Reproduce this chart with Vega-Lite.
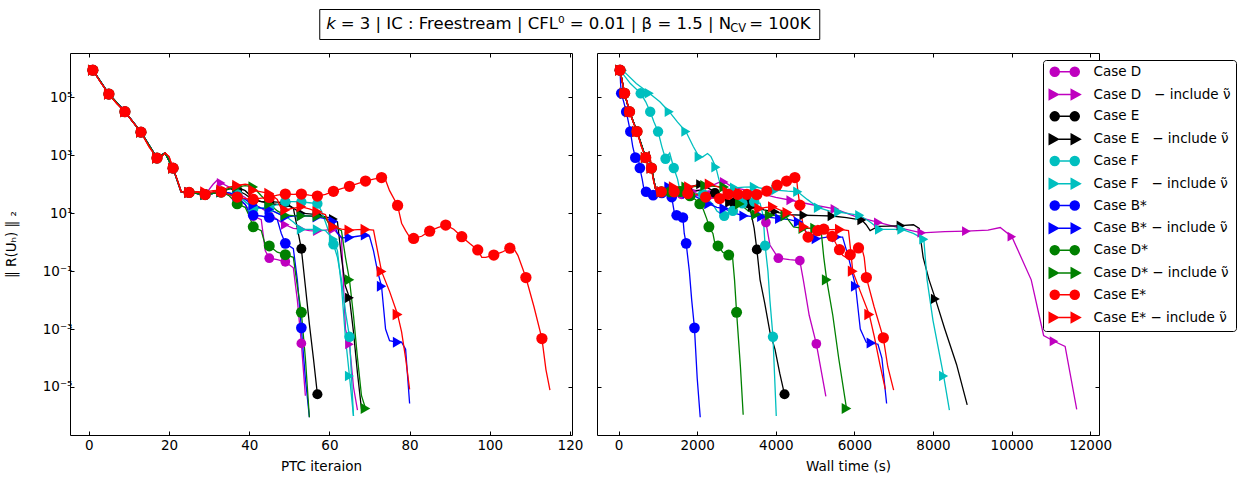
{
"$schema": "https://vega.github.io/schema/vega-lite/v6.json",
"padding": {"left": 3, "top": 8, "right": 5, "bottom": 5},
"spacing": 12,
"center": true,
"config": {
 "font": "DejaVu Sans",
 "view": {"stroke": "#000000", "strokeWidth": 1},
 "axis": {"domain": false, "grid": false, "tickColor": "#000000", "tickSize": -4, "tickWidth": 1, "labelColor": "#000000", "labelFontSize": 13.5, "titleFontSize": 13.5, "titleFontWeight": "normal", "titleColor": "#000000", "labelPadding": 2},
 "axisX": {"labelPadding": 7},
 "legend": {"labelFontSize": 13.5, "labelColor": "#000000", "symbolSize": 100, "symbolStrokeWidth": 1.5, "rowPadding": 5.8, "padding": 5, "strokeColor": "#000000", "fillColor": "#ffffff", "cornerRadius": 3, "symbolOffset": 10, "labelOffset": 22, "labelLimit": 300}
},
"datasets": {
"S": [{"s":"D"},{"s":"Di"},{"s":"E"},{"s":"Ei"},{"s":"F"},{"s":"Fi"},{"s":"B"},{"s":"Bi"},{"s":"Ds"},{"s":"Dsi"},{"s":"Es"},{"s":"Esi"}],
"L": [
{"s":"D","x":1,"y":8.7e5,"m":1},{"s":"D","x":5,"y":1.3e5,"m":1},{"s":"D","x":9,"y":3.2e4,"m":1},{"s":"D","x":13,"y":6300,"m":1},{"s":"D","x":17,"y":800,"m":1},{"s":"D","x":19,"y":1200},{"s":"D","x":21,"y":360,"m":1},{"s":"D","x":23,"y":56},{"s":"D","x":25,"y":52,"m":1},{"s":"D","x":29,"y":44,"m":1},{"s":"D","x":33,"y":54,"m":1},
{"s":"D","x":35,"y":45},{"s":"D","x":37,"y":32,"m":1},{"s":"D","x":39,"y":20},{"s":"D","x":41,"y":8,"m":1},{"s":"D","x":43,"y":6},{"s":"D","x":44,"y":0.5},{"s":"D","x":45,"y":0.28,"m":1},{"s":"D","x":47,"y":0.25},{"s":"D","x":49,"y":0.21,"m":1},{"s":"D","x":51,"y":0.13},{"s":"D","x":52,"y":0.01},{"s":"D","x":53,"y":3.2e-4,"m":1},{"s":"D","x":54,"y":5e-6},
{"s":"Di","x":1,"y":8.7e5,"m":1},{"s":"Di","x":5,"y":1.3e5,"m":1},{"s":"Di","x":9,"y":3.2e4,"m":1},{"s":"Di","x":13,"y":6300,"m":1},{"s":"Di","x":17,"y":800,"m":1},{"s":"Di","x":19,"y":1200},{"s":"Di","x":21,"y":360,"m":1},{"s":"Di","x":23,"y":56},{"s":"Di","x":25,"y":52,"m":1},{"s":"Di","x":29,"y":44,"m":1},
{"s":"Di","x":31,"y":100},{"s":"Di","x":32,"y":138},{"s":"Di","x":33,"y":110,"m":1},{"s":"Di","x":35,"y":80},{"s":"Di","x":37,"y":50,"m":1},{"s":"Di","x":39,"y":35},{"s":"Di","x":41,"y":20,"m":1},{"s":"Di","x":43,"y":15},{"s":"Di","x":45,"y":10,"m":1},{"s":"Di","x":47,"y":6},{"s":"Di","x":49,"y":4,"m":1},{"s":"Di","x":51,"y":3},{"s":"Di","x":53,"y":2.8,"m":1},{"s":"Di","x":55,"y":2.5},{"s":"Di","x":57,"y":2.4,"m":1},{"s":"Di","x":59,"y":2.6},{"s":"Di","x":61,"y":2.8,"m":1},{"s":"Di","x":63,"y":1.5},{"s":"Di","x":64,"y":1e-3},{"s":"Di","x":65,"y":3e-4,"m":1},{"s":"Di","x":66,"y":1e-5},{"s":"Di","x":67,"y":1.6e-6},
{"s":"E","x":1,"y":8.7e5,"m":1},{"s":"E","x":5,"y":1.3e5,"m":1},{"s":"E","x":9,"y":3.2e4,"m":1},{"s":"E","x":13,"y":6300,"m":1},{"s":"E","x":17,"y":800,"m":1},{"s":"E","x":19,"y":1200},{"s":"E","x":21,"y":360,"m":1},{"s":"E","x":23,"y":56},{"s":"E","x":25,"y":52,"m":1},{"s":"E","x":29,"y":44,"m":1},{"s":"E","x":33,"y":54,"m":1},
{"s":"E","x":35,"y":70},{"s":"E","x":37,"y":62,"m":1},{"s":"E","x":39,"y":45},{"s":"E","x":41,"y":28,"m":1},{"s":"E","x":43,"y":25},{"s":"E","x":45,"y":25,"m":1},{"s":"E","x":47,"y":24},{"s":"E","x":49,"y":23,"m":1},{"s":"E","x":51,"y":15},{"s":"E","x":52,"y":3},{"s":"E","x":53,"y":0.59,"m":1},{"s":"E","x":54,"y":0.03},{"s":"E","x":55,"y":1.5e-3},{"s":"E","x":56,"y":1e-4},{"s":"E","x":57,"y":5.6e-6,"m":1},
{"s":"Ei","x":1,"y":8.7e5,"m":1},{"s":"Ei","x":5,"y":1.3e5,"m":1},{"s":"Ei","x":9,"y":3.2e4,"m":1},{"s":"Ei","x":13,"y":6300,"m":1},{"s":"Ei","x":17,"y":800,"m":1},{"s":"Ei","x":19,"y":1200},{"s":"Ei","x":21,"y":360,"m":1},{"s":"Ei","x":23,"y":56},{"s":"Ei","x":25,"y":52,"m":1},{"s":"Ei","x":29,"y":44,"m":1},{"s":"Ei","x":33,"y":54,"m":1},
{"s":"Ei","x":35,"y":70},{"s":"Ei","x":37,"y":79,"m":1},{"s":"Ei","x":39,"y":60},{"s":"Ei","x":41,"y":32,"m":1},{"s":"Ei","x":43,"y":25},{"s":"Ei","x":45,"y":22,"m":1},{"s":"Ei","x":47,"y":20},{"s":"Ei","x":49,"y":20,"m":1},{"s":"Ei","x":51,"y":15},{"s":"Ei","x":53,"y":10,"m":1},{"s":"Ei","x":55,"y":9.5},{"s":"Ei","x":57,"y":9,"m":1},{"s":"Ei","x":59,"y":7.5},{"s":"Ei","x":61,"y":6.3,"m":1},{"s":"Ei","x":62,"y":5},{"s":"Ei","x":63,"y":0.3},{"s":"Ei","x":64,"y":0.03},{"s":"Ei","x":65,"y":0.012,"m":1},{"s":"Ei","x":66,"y":8e-4},{"s":"Ei","x":67,"y":3e-5},{"s":"Ei","x":68,"y":1.7e-6},
{"s":"F","x":1,"y":8.7e5,"m":1},{"s":"F","x":5,"y":1.3e5,"m":1},{"s":"F","x":9,"y":3.2e4,"m":1},{"s":"F","x":13,"y":6300,"m":1},{"s":"F","x":17,"y":800,"m":1},{"s":"F","x":19,"y":1200},{"s":"F","x":21,"y":360,"m":1},{"s":"F","x":23,"y":56},{"s":"F","x":25,"y":52,"m":1},{"s":"F","x":29,"y":44,"m":1},{"s":"F","x":33,"y":54,"m":1},
{"s":"F","x":35,"y":50},{"s":"F","x":37,"y":45,"m":1},{"s":"F","x":39,"y":25},{"s":"F","x":41,"y":14.5,"m":1},{"s":"F","x":43,"y":15},{"s":"F","x":45,"y":16,"m":1},{"s":"F","x":47,"y":20},{"s":"F","x":49,"y":25,"m":1},{"s":"F","x":51,"y":25},{"s":"F","x":53,"y":24.5,"m":1},{"s":"F","x":55,"y":23},{"s":"F","x":57,"y":21.4,"m":1},{"s":"F","x":58,"y":12},{"s":"F","x":59,"y":5},{"s":"F","x":60,"y":2},{"s":"F","x":61,"y":0.85,"m":1},{"s":"F","x":62,"y":0.3},{"s":"F","x":63,"y":0.05},{"s":"F","x":64,"y":4e-3},{"s":"F","x":65,"y":5.4e-4,"m":1},{"s":"F","x":66,"y":1e-6},
{"s":"Fi","x":1,"y":8.7e5,"m":1},{"s":"Fi","x":5,"y":1.3e5,"m":1},{"s":"Fi","x":9,"y":3.2e4,"m":1},{"s":"Fi","x":13,"y":6300,"m":1},{"s":"Fi","x":17,"y":800,"m":1},{"s":"Fi","x":19,"y":1200},{"s":"Fi","x":21,"y":360,"m":1},{"s":"Fi","x":23,"y":56},{"s":"Fi","x":25,"y":52,"m":1},{"s":"Fi","x":29,"y":44,"m":1},{"s":"Fi","x":33,"y":54,"m":1},
{"s":"Fi","x":35,"y":45},{"s":"Fi","x":37,"y":40,"m":1},{"s":"Fi","x":39,"y":25},{"s":"Fi","x":41,"y":16,"m":1},{"s":"Fi","x":43,"y":15},{"s":"Fi","x":45,"y":14,"m":1},{"s":"Fi","x":47,"y":10},{"s":"Fi","x":49,"y":8,"m":1},{"s":"Fi","x":51,"y":5},{"s":"Fi","x":53,"y":2.75,"m":1},{"s":"Fi","x":55,"y":2.75},{"s":"Fi","x":57,"y":2.75,"m":1},{"s":"Fi","x":59,"y":2.5},{"s":"Fi","x":61,"y":1.26,"m":1},{"s":"Fi","x":62,"y":0.5},{"s":"Fi","x":63,"y":0.03},{"s":"Fi","x":64,"y":5e-4},{"s":"Fi","x":65,"y":2.4e-5,"m":1},{"s":"Fi","x":66,"y":1e-6},
{"s":"B","x":1,"y":8.7e5,"m":1},{"s":"B","x":5,"y":1.3e5,"m":1},{"s":"B","x":9,"y":3.2e4,"m":1},{"s":"B","x":13,"y":6300,"m":1},{"s":"B","x":17,"y":800,"m":1},{"s":"B","x":19,"y":1200},{"s":"B","x":21,"y":360,"m":1},{"s":"B","x":23,"y":56},{"s":"B","x":25,"y":52,"m":1},{"s":"B","x":29,"y":44,"m":1},{"s":"B","x":33,"y":54,"m":1},
{"s":"B","x":35,"y":45},{"s":"B","x":37,"y":36,"m":1},{"s":"B","x":39,"y":20},{"s":"B","x":40,"y":10},{"s":"B","x":41,"y":8.5,"m":1},{"s":"B","x":43,"y":8},{"s":"B","x":45,"y":7.1,"m":1},{"s":"B","x":47,"y":6},{"s":"B","x":48,"y":2},{"s":"B","x":49,"y":0.91,"m":1},{"s":"B","x":51,"y":0.6},{"s":"B","x":52,"y":0.05},{"s":"B","x":53,"y":1.1e-3,"m":1},{"s":"B","x":54,"y":2e-5},{"s":"B","x":55,"y":9e-7},
{"s":"Bi","x":1,"y":8.7e5,"m":1},{"s":"Bi","x":5,"y":1.3e5,"m":1},{"s":"Bi","x":9,"y":3.2e4,"m":1},{"s":"Bi","x":13,"y":6300,"m":1},{"s":"Bi","x":17,"y":800,"m":1},{"s":"Bi","x":19,"y":1200},{"s":"Bi","x":21,"y":360,"m":1},{"s":"Bi","x":23,"y":56},{"s":"Bi","x":25,"y":52,"m":1},{"s":"Bi","x":29,"y":44,"m":1},{"s":"Bi","x":33,"y":54,"m":1},
{"s":"Bi","x":35,"y":50},{"s":"Bi","x":37,"y":40,"m":1},{"s":"Bi","x":39,"y":30},{"s":"Bi","x":41,"y":19,"m":1},{"s":"Bi","x":43,"y":15},{"s":"Bi","x":45,"y":13.5,"m":1},{"s":"Bi","x":47,"y":10},{"s":"Bi","x":49,"y":7.4,"m":1},{"s":"Bi","x":51,"y":8},{"s":"Bi","x":53,"y":8.3,"m":1},{"s":"Bi","x":55,"y":8},{"s":"Bi","x":57,"y":7.4,"m":1},{"s":"Bi","x":59,"y":6.5},{"s":"Bi","x":61,"y":5.2,"m":1},{"s":"Bi","x":62,"y":2},{"s":"Bi","x":63,"y":1.4},{"s":"Bi","x":65,"y":1.45,"m":1},{"s":"Bi","x":67,"y":1.6},{"s":"Bi","x":69,"y":1.74,"m":1},{"s":"Bi","x":70,"y":1.6},{"s":"Bi","x":71,"y":0.5},{"s":"Bi","x":72,"y":0.1},{"s":"Bi","x":73,"y":0.03,"m":1},{"s":"Bi","x":74,"y":1e-3},{"s":"Bi","x":75,"y":4e-4},{"s":"Bi","x":77,"y":3.5e-4,"m":1},{"s":"Bi","x":78,"y":3.5e-4},{"s":"Bi","x":79,"y":2e-4},{"s":"Bi","x":80,"y":2.7e-6},
{"s":"Ds","x":1,"y":8.7e5,"m":1},{"s":"Ds","x":5,"y":1.3e5,"m":1},{"s":"Ds","x":9,"y":3.2e4,"m":1},{"s":"Ds","x":13,"y":6300,"m":1},{"s":"Ds","x":17,"y":800,"m":1},{"s":"Ds","x":19,"y":1200},{"s":"Ds","x":21,"y":360,"m":1},{"s":"Ds","x":23,"y":56},{"s":"Ds","x":25,"y":52,"m":1},{"s":"Ds","x":29,"y":44,"m":1},{"s":"Ds","x":33,"y":54,"m":1},
{"s":"Ds","x":35,"y":40},{"s":"Ds","x":37,"y":21,"m":1},{"s":"Ds","x":39,"y":16},{"s":"Ds","x":40,"y":8},{"s":"Ds","x":41,"y":3.4,"m":1},{"s":"Ds","x":43,"y":2.5},{"s":"Ds","x":44,"y":0.8},{"s":"Ds","x":45,"y":0.74,"m":1},{"s":"Ds","x":47,"y":0.45},{"s":"Ds","x":49,"y":0.37,"m":1},{"s":"Ds","x":51,"y":0.3},{"s":"Ds","x":52,"y":0.03},{"s":"Ds","x":53,"y":3.8e-3,"m":1},{"s":"Ds","x":54,"y":1e-4},{"s":"Ds","x":55,"y":9e-7},
{"s":"Dsi","x":1,"y":8.7e5,"m":1},{"s":"Dsi","x":5,"y":1.3e5,"m":1},{"s":"Dsi","x":9,"y":3.2e4,"m":1},{"s":"Dsi","x":13,"y":6300,"m":1},{"s":"Dsi","x":17,"y":800,"m":1},{"s":"Dsi","x":19,"y":1200},{"s":"Dsi","x":21,"y":360,"m":1},{"s":"Dsi","x":23,"y":56},{"s":"Dsi","x":25,"y":52,"m":1},{"s":"Dsi","x":29,"y":44,"m":1},{"s":"Dsi","x":33,"y":54,"m":1},
{"s":"Dsi","x":35,"y":70},{"s":"Dsi","x":37,"y":80,"m":1},{"s":"Dsi","x":39,"y":90},{"s":"Dsi","x":41,"y":81,"m":1},{"s":"Dsi","x":43,"y":40},{"s":"Dsi","x":45,"y":21,"m":1},{"s":"Dsi","x":47,"y":12},{"s":"Dsi","x":49,"y":8.5,"m":1},{"s":"Dsi","x":51,"y":8.2},{"s":"Dsi","x":53,"y":8.1,"m":1},{"s":"Dsi","x":55,"y":8},{"s":"Dsi","x":57,"y":7.9,"m":1},{"s":"Dsi","x":59,"y":7},{"s":"Dsi","x":60,"y":4},{"s":"Dsi","x":61,"y":3.4,"m":1},{"s":"Dsi","x":63,"y":2.5},{"s":"Dsi","x":64,"y":0.3},{"s":"Dsi","x":65,"y":0.05,"m":1},{"s":"Dsi","x":66,"y":3e-3},{"s":"Dsi","x":67,"y":1e-4},{"s":"Dsi","x":68,"y":5e-6},{"s":"Dsi","x":69,"y":1.8e-6,"m":1},
{"s":"Es","x":1,"y":8.7e5,"m":1},{"s":"Es","x":3,"y":3.2e5},{"s":"Es","x":5,"y":1.3e5,"m":1},{"s":"Es","x":7,"y":6e4},{"s":"Es","x":9,"y":3.2e4,"m":1},{"s":"Es","x":11,"y":1.4e4},{"s":"Es","x":13,"y":6300,"m":1},{"s":"Es","x":15,"y":2000},{"s":"Es","x":17,"y":800,"m":1},{"s":"Es","x":18,"y":850},{"s":"Es","x":19,"y":1200},{"s":"Es","x":20,"y":900},{"s":"Es","x":21,"y":360,"m":1},{"s":"Es","x":22,"y":150},{"s":"Es","x":23,"y":56},{"s":"Es","x":25,"y":52,"m":1},{"s":"Es","x":27,"y":55},{"s":"Es","x":29,"y":44,"m":1},{"s":"Es","x":31,"y":56},{"s":"Es","x":33,"y":54,"m":1},
{"s":"Es","x":35,"y":45},{"s":"Es","x":37,"y":36,"m":1},{"s":"Es","x":39,"y":32},{"s":"Es","x":41,"y":30,"m":1},{"s":"Es","x":43,"y":33},{"s":"Es","x":45,"y":35,"m":1},{"s":"Es","x":47,"y":42},{"s":"Es","x":49,"y":46,"m":1},{"s":"Es","x":51,"y":45},{"s":"Es","x":53,"y":46,"m":1},{"s":"Es","x":55,"y":42},{"s":"Es","x":57,"y":39,"m":1},{"s":"Es","x":59,"y":45},{"s":"Es","x":61,"y":57,"m":1},{"s":"Es","x":63,"y":70},{"s":"Es","x":65,"y":85,"m":1},{"s":"Es","x":67,"y":105},{"s":"Es","x":69,"y":129,"m":1},{"s":"Es","x":71,"y":150},{"s":"Es","x":73,"y":170,"m":1},{"s":"Es","x":74,"y":140},{"s":"Es","x":75,"y":60},{"s":"Es","x":77,"y":18.6,"m":1},{"s":"Es","x":78,"y":4.5},{"s":"Es","x":79,"y":2.5},{"s":"Es","x":80,"y":1.5},{"s":"Es","x":81,"y":1.35,"m":1},{"s":"Es","x":83,"y":1.6},{"s":"Es","x":85,"y":2.4,"m":1},{"s":"Es","x":87,"y":3.2},{"s":"Es","x":89,"y":3.9,"m":1},{"s":"Es","x":91,"y":2.8},{"s":"Es","x":93,"y":1.55,"m":1},{"s":"Es","x":95,"y":0.9},{"s":"Es","x":97,"y":0.54,"m":1},{"s":"Es","x":98,"y":0.3},{"s":"Es","x":99,"y":0.3},{"s":"Es","x":101,"y":0.36,"m":1},{"s":"Es","x":103,"y":0.45},{"s":"Es","x":105,"y":0.62,"m":1},{"s":"Es","x":106,"y":0.6},{"s":"Es","x":107,"y":0.35},{"s":"Es","x":109,"y":0.06,"m":1},{"s":"Es","x":111,"y":0.006},{"s":"Es","x":113,"y":4.7e-4,"m":1},{"s":"Es","x":114,"y":4e-5},{"s":"Es","x":115,"y":7.8e-6},
{"s":"Esi","x":1,"y":8.7e5,"m":1},{"s":"Esi","x":3,"y":3.2e5},{"s":"Esi","x":5,"y":1.3e5,"m":1},{"s":"Esi","x":7,"y":6e4},{"s":"Esi","x":9,"y":3.2e4,"m":1},{"s":"Esi","x":11,"y":1.4e4},{"s":"Esi","x":13,"y":6300,"m":1},{"s":"Esi","x":15,"y":2000},{"s":"Esi","x":17,"y":800,"m":1},{"s":"Esi","x":18,"y":850},{"s":"Esi","x":19,"y":1200},{"s":"Esi","x":20,"y":900},{"s":"Esi","x":21,"y":360,"m":1},{"s":"Esi","x":22,"y":150},{"s":"Esi","x":23,"y":56},{"s":"Esi","x":25,"y":52,"m":1},
{"s":"Esi","x":27,"y":55},{"s":"Esi","x":29,"y":54,"m":1},{"s":"Esi","x":31,"y":60},{"s":"Esi","x":33,"y":62,"m":1},{"s":"Esi","x":35,"y":80},{"s":"Esi","x":37,"y":91,"m":1},{"s":"Esi","x":39,"y":100},{"s":"Esi","x":40,"y":95},{"s":"Esi","x":41,"y":62,"m":1},{"s":"Esi","x":43,"y":55},{"s":"Esi","x":45,"y":48,"m":1},{"s":"Esi","x":47,"y":30},{"s":"Esi","x":48,"y":14},{"s":"Esi","x":49,"y":12.9,"m":1},{"s":"Esi","x":51,"y":15},{"s":"Esi","x":53,"y":16.6,"m":1},{"s":"Esi","x":55,"y":14},{"s":"Esi","x":57,"y":11.2,"m":1},{"s":"Esi","x":59,"y":9},{"s":"Esi","x":60,"y":4},{"s":"Esi","x":61,"y":3.4,"m":1},{"s":"Esi","x":63,"y":2.8},{"s":"Esi","x":65,"y":2.6,"m":1},{"s":"Esi","x":67,"y":2.7},{"s":"Esi","x":69,"y":2.75,"m":1},{"s":"Esi","x":71,"y":2.6},{"s":"Esi","x":72,"y":0.5},{"s":"Esi","x":73,"y":0.098,"m":1},{"s":"Esi","x":75,"y":0.02},{"s":"Esi","x":77,"y":3.2e-3,"m":1},{"s":"Esi","x":78,"y":8e-4},{"s":"Esi","x":79,"y":1e-4},{"s":"Esi","x":80,"y":8.3e-6}
],
"R": [
{"s":"D","x":36,"y":8.7e5,"m":1},{"s":"D","x":152,"y":1.38e5,"m":1},{"s":"D","x":278,"y":3.2e4,"m":1},{"s":"D","x":468,"y":6600,"m":1},{"s":"D","x":689,"y":830,"m":1},{"s":"D","x":770,"y":1200},{"s":"D","x":836,"y":363,"m":1},{"s":"D","x":950,"y":60},{"s":"D","x":1088,"y":55,"m":1},
{"s":"D","x":1300,"y":50},{"s":"D","x":1600,"y":45,"m":1},{"s":"D","x":1900,"y":40},{"s":"D","x":2300,"y":42,"m":1},{"s":"D","x":2700,"y":38},{"s":"D","x":3050,"y":30,"m":1},{"s":"D","x":3350,"y":25},{"s":"D","x":3500,"y":12},{"s":"D","x":3749,"y":4.8,"m":1},{"s":"D","x":3850,"y":0.8},{"s":"D","x":4065,"y":0.28,"m":1},{"s":"D","x":4350,"y":0.25},{"s":"D","x":4611,"y":0.23,"m":1},{"s":"D","x":4700,"y":0.05},{"s":"D","x":4850,"y":3e-3},{"s":"D","x":5032,"y":3.1e-4,"m":1},{"s":"D","x":5274,"y":4.7e-6},
{"s":"Di","x":36,"y":8.7e5,"m":1},{"s":"Di","x":152,"y":1.38e5,"m":1},{"s":"Di","x":278,"y":3.2e4,"m":1},{"s":"Di","x":468,"y":6600,"m":1},{"s":"Di","x":689,"y":830,"m":1},{"s":"Di","x":770,"y":1200},{"s":"Di","x":836,"y":363,"m":1},{"s":"Di","x":950,"y":60},{"s":"Di","x":1088,"y":55,"m":1},
{"s":"Di","x":1500,"y":60},{"s":"Di","x":1900,"y":56,"m":1},{"s":"Di","x":2300,"y":80},{"s":"Di","x":2550,"y":115},{"s":"Di","x":2687,"y":120,"m":1},{"s":"Di","x":2900,"y":80},{"s":"Di","x":3300,"y":60},{"s":"Di","x":3550,"y":50,"m":1},{"s":"Di","x":4000,"y":35},{"s":"Di","x":4380,"y":28,"m":1},{"s":"Di","x":4900,"y":20},{"s":"Di","x":5505,"y":14,"m":1},{"s":"Di","x":6000,"y":8},{"s":"Di","x":6610,"y":4.8,"m":1},{"s":"Di","x":7200,"y":3},{"s":"Di","x":7714,"y":2.1,"m":1},{"s":"Di","x":8300,"y":2.3},{"s":"Di","x":8850,"y":2.4,"m":1},{"s":"Di","x":9400,"y":2.6},{"s":"Di","x":9712,"y":3.2},{"s":"Di","x":10007,"y":1.55,"m":1},{"s":"Di","x":10500,"y":0.05},{"s":"Di","x":10816,"y":6e-4},{"s":"Di","x":11080,"y":3.8e-4,"m":1},{"s":"Di","x":11363,"y":2.5e-4},{"s":"Di","x":11658,"y":1.7e-6},
{"s":"E","x":36,"y":8.7e5,"m":1},{"s":"E","x":152,"y":1.38e5,"m":1},{"s":"E","x":278,"y":3.2e4,"m":1},{"s":"E","x":468,"y":6600,"m":1},{"s":"E","x":689,"y":830,"m":1},{"s":"E","x":770,"y":1200},{"s":"E","x":836,"y":363,"m":1},{"s":"E","x":950,"y":60},{"s":"E","x":1088,"y":55,"m":1},
{"s":"E","x":1400,"y":58},{"s":"E","x":1750,"y":62,"m":1},{"s":"E","x":2100,"y":60},{"s":"E","x":2450,"y":50,"m":1},{"s":"E","x":2700,"y":30},{"s":"E","x":2929,"y":23,"m":1},{"s":"E","x":3150,"y":23},{"s":"E","x":3297,"y":22,"m":1},{"s":"E","x":3370,"y":10},{"s":"E","x":3450,"y":3},{"s":"E","x":3518,"y":0.56,"m":1},{"s":"E","x":3600,"y":0.05},{"s":"E","x":3717,"y":8e-3},{"s":"E","x":3850,"y":8e-4},{"s":"E","x":3980,"y":2e-4},{"s":"E","x":4100,"y":3e-5},{"s":"E","x":4222,"y":5.6e-6,"m":1},
{"s":"Ei","x":36,"y":8.7e5,"m":1},{"s":"Ei","x":152,"y":1.38e5,"m":1},{"s":"Ei","x":278,"y":3.2e4,"m":1},{"s":"Ei","x":468,"y":6600,"m":1},{"s":"Ei","x":689,"y":830,"m":1},{"s":"Ei","x":770,"y":1200},{"s":"Ei","x":836,"y":363,"m":1},{"s":"Ei","x":950,"y":60},{"s":"Ei","x":1088,"y":55,"m":1},
{"s":"Ei","x":1500,"y":65},{"s":"Ei","x":2087,"y":100,"m":1},{"s":"Ei","x":2400,"y":60},{"s":"Ei","x":2824,"y":23,"m":1},{"s":"Ei","x":3100,"y":20},{"s":"Ei","x":3400,"y":17,"m":1},{"s":"Ei","x":3700,"y":13},{"s":"Ei","x":3980,"y":11.2,"m":1},{"s":"Ei","x":4300,"y":9},{"s":"Ei","x":4716,"y":8.5,"m":1},{"s":"Ei","x":5100,"y":8.2},{"s":"Ei","x":5432,"y":8,"m":1},{"s":"Ei","x":5800,"y":7},{"s":"Ei","x":6189,"y":5.8,"m":1},{"s":"Ei","x":6300,"y":4},{"s":"Ei","x":6400,"y":2.5},{"s":"Ei","x":6600,"y":3.5},{"s":"Ei","x":6900,"y":3.6},{"s":"Ei","x":7188,"y":3.7,"m":1},{"s":"Ei","x":7503,"y":4},{"s":"Ei","x":7650,"y":3},{"s":"Ei","x":7750,"y":0.3},{"s":"Ei","x":7900,"y":0.05},{"s":"Ei","x":8061,"y":0.011,"m":1},{"s":"Ei","x":8300,"y":1e-3},{"s":"Ei","x":8600,"y":6e-5},{"s":"Ei","x":8871,"y":2.4e-6},
{"s":"F","x":36,"y":8.7e5,"m":1},{"s":"F","x":300,"y":3e5},{"s":"F","x":562,"y":1.38e5,"m":1},{"s":"F","x":690,"y":7e4},{"s":"F","x":804,"y":3.2e4,"m":1},{"s":"F","x":900,"y":1.4e4},{"s":"F","x":1004,"y":6600,"m":1},{"s":"F","x":1100,"y":2000},{"s":"F","x":1193,"y":760,"m":1},{"s":"F","x":1300,"y":1200},{"s":"F","x":1404,"y":363,"m":1},{"s":"F","x":1500,"y":150},{"s":"F","x":1560,"y":60},{"s":"F","x":1614,"y":55,"m":1},{"s":"F","x":1900,"y":50},{"s":"F","x":2150,"y":45,"m":1},{"s":"F","x":2400,"y":20},{"s":"F","x":2500,"y":12},{"s":"F","x":2687,"y":8.1,"m":1},{"s":"F","x":2800,"y":10},{"s":"F","x":2908,"y":12,"m":1},{"s":"F","x":3050,"y":18},{"s":"F","x":3150,"y":22,"m":1},{"s":"F","x":3350,"y":25},{"s":"F","x":3450,"y":25,"m":1},{"s":"F","x":3600,"y":22},{"s":"F","x":3680,"y":8},{"s":"F","x":3728,"y":0.76,"m":1},{"s":"F","x":3800,"y":0.1},{"s":"F","x":3850,"y":0.01},{"s":"F","x":3928,"y":5.4e-4,"m":1},{"s":"F","x":4012,"y":1e-6},
{"s":"Fi","x":100,"y":8.7e5,"m":1},{"s":"Fi","x":450,"y":3e5},{"s":"Fi","x":780,"y":1.38e5,"m":1},{"s":"Fi","x":1050,"y":7e4},{"s":"Fi","x":1288,"y":3.2e4,"m":1},{"s":"Fi","x":1500,"y":1.4e4},{"s":"Fi","x":1712,"y":6600,"m":1},{"s":"Fi","x":1900,"y":2000},{"s":"Fi","x":2051,"y":870,"m":1},{"s":"Fi","x":2150,"y":900},{"s":"Fi","x":2263,"y":1150},{"s":"Fi","x":2350,"y":900},{"s":"Fi","x":2475,"y":390,"m":1},{"s":"Fi","x":2550,"y":150},{"s":"Fi","x":2650,"y":60},{"s":"Fi","x":2950,"y":75,"m":1},{"s":"Fi","x":3200,"y":80},{"s":"Fi","x":3455,"y":81,"m":1},{"s":"Fi","x":3700,"y":70},{"s":"Fi","x":4000,"y":63,"m":1},{"s":"Fi","x":4300,"y":58},{"s":"Fi","x":4559,"y":55,"m":1},{"s":"Fi","x":4800,"y":30},{"s":"Fi","x":5085,"y":15.5,"m":1},{"s":"Fi","x":5350,"y":12},{"s":"Fi","x":5600,"y":11,"m":1},{"s":"Fi","x":5900,"y":9.5},{"s":"Fi","x":6136,"y":8.5,"m":1},{"s":"Fi","x":6400,"y":5},{"s":"Fi","x":6641,"y":2.75,"m":1},{"s":"Fi","x":6900,"y":2.75},{"s":"Fi","x":7209,"y":2.75,"m":1},{"s":"Fi","x":7500,"y":2},{"s":"Fi","x":7766,"y":1.26,"m":1},{"s":"Fi","x":7850,"y":0.05},{"s":"Fi","x":8000,"y":2e-3},{"s":"Fi","x":8271,"y":2.4e-5,"m":1},{"s":"Fi","x":8418,"y":1.6e-6},
{"s":"B","x":36,"y":8.7e5,"m":1},{"s":"B","x":50,"y":3e5},{"s":"B","x":68,"y":1.38e5,"m":1},{"s":"B","x":130,"y":7e4},{"s":"B","x":194,"y":3.2e4,"m":1},{"s":"B","x":250,"y":1.4e4},{"s":"B","x":299,"y":6600,"m":1},{"s":"B","x":360,"y":2000},{"s":"B","x":426,"y":830,"m":1},{"s":"B","x":490,"y":1000},{"s":"B","x":541,"y":363,"m":1},{"s":"B","x":600,"y":150},{"s":"B","x":650,"y":60},{"s":"B","x":699,"y":55,"m":1},{"s":"B","x":780,"y":50},{"s":"B","x":878,"y":42,"m":1},{"s":"B","x":1000,"y":45},{"s":"B","x":1100,"y":50,"m":1},{"s":"B","x":1250,"y":45},{"s":"B","x":1351,"y":36,"m":1},{"s":"B","x":1420,"y":10},{"s":"B","x":1477,"y":8.5,"m":1},{"s":"B","x":1560,"y":8},{"s":"B","x":1635,"y":7.1,"m":1},{"s":"B","x":1670,"y":2},{"s":"B","x":1719,"y":0.91,"m":1},{"s":"B","x":1800,"y":0.1},{"s":"B","x":1860,"y":0.01},{"s":"B","x":1930,"y":1.1e-3,"m":1},{"s":"B","x":2000,"y":2e-5},{"s":"B","x":2077,"y":9e-7},
{"s":"Bi","x":36,"y":8.7e5,"m":1},{"s":"Bi","x":152,"y":1.38e5,"m":1},{"s":"Bi","x":278,"y":3.2e4,"m":1},{"s":"Bi","x":468,"y":6600,"m":1},{"s":"Bi","x":689,"y":830,"m":1},{"s":"Bi","x":770,"y":1200},{"s":"Bi","x":836,"y":363,"m":1},{"s":"Bi","x":950,"y":60},{"s":"Bi","x":1088,"y":55,"m":1},
{"s":"Bi","x":1282,"y":81,"m":1},{"s":"Bi","x":1500,"y":60},{"s":"Bi","x":1748,"y":48,"m":1},{"s":"Bi","x":2000,"y":35},{"s":"Bi","x":2297,"y":21,"m":1},{"s":"Bi","x":2500,"y":16},{"s":"Bi","x":2687,"y":14.5,"m":1},{"s":"Bi","x":2950,"y":10},{"s":"Bi","x":3192,"y":8.1,"m":1},{"s":"Bi","x":3400,"y":7.8},{"s":"Bi","x":3644,"y":7.6,"m":1},{"s":"Bi","x":3900,"y":7},{"s":"Bi","x":4100,"y":6.5,"m":1},{"s":"Bi","x":4350,"y":6},{"s":"Bi","x":4580,"y":5,"m":1},{"s":"Bi","x":4800,"y":2},{"s":"Bi","x":4900,"y":1.3},{"s":"Bi","x":5032,"y":1.3,"m":1},{"s":"Bi","x":5300,"y":1.5},{"s":"Bi","x":5550,"y":1.5,"m":1},{"s":"Bi","x":5700,"y":1.5},{"s":"Bi","x":5850,"y":0.3},{"s":"Bi","x":6031,"y":0.03,"m":1},{"s":"Bi","x":6150,"y":1e-3},{"s":"Bi","x":6300,"y":3.5e-4},{"s":"Bi","x":6431,"y":3.3e-4,"m":1},{"s":"Bi","x":6600,"y":3e-4},{"s":"Bi","x":6700,"y":1e-4},{"s":"Bi","x":6820,"y":2.7e-6},
{"s":"Ds","x":36,"y":8.7e5,"m":1},{"s":"Ds","x":152,"y":1.38e5,"m":1},{"s":"Ds","x":278,"y":3.2e4,"m":1},{"s":"Ds","x":468,"y":6600,"m":1},{"s":"Ds","x":689,"y":830,"m":1},{"s":"Ds","x":770,"y":1200},{"s":"Ds","x":836,"y":363,"m":1},{"s":"Ds","x":950,"y":60},{"s":"Ds","x":1088,"y":55,"m":1},
{"s":"Ds","x":1316,"y":55,"m":1},{"s":"Ds","x":1566,"y":56,"m":1},{"s":"Ds","x":1816,"y":40,"m":1},{"s":"Ds","x":1950,"y":30},{"s":"Ds","x":2066,"y":21,"m":1},{"s":"Ds","x":2150,"y":14},{"s":"Ds","x":2250,"y":6},{"s":"Ds","x":2298,"y":3.4,"m":1},{"s":"Ds","x":2400,"y":2},{"s":"Ds","x":2450,"y":0.9},{"s":"Ds","x":2529,"y":0.74,"m":1},{"s":"Ds","x":2650,"y":0.45},{"s":"Ds","x":2802,"y":0.36,"m":1},{"s":"Ds","x":2900,"y":0.3},{"s":"Ds","x":2950,"y":0.05},{"s":"Ds","x":3002,"y":3.8e-3,"m":1},{"s":"Ds","x":3100,"y":5e-5},{"s":"Ds","x":3170,"y":1.1e-6},
{"s":"Dsi","x":36,"y":8.7e5,"m":1},{"s":"Dsi","x":152,"y":1.38e5,"m":1},{"s":"Dsi","x":278,"y":3.2e4,"m":1},{"s":"Dsi","x":468,"y":6600,"m":1},{"s":"Dsi","x":689,"y":830,"m":1},{"s":"Dsi","x":770,"y":1200},{"s":"Dsi","x":836,"y":363,"m":1},{"s":"Dsi","x":950,"y":60},{"s":"Dsi","x":1088,"y":55,"m":1},
{"s":"Dsi","x":1400,"y":70,"m":1},{"s":"Dsi","x":1719,"y":80,"m":1},{"s":"Dsi","x":2000,"y":85},{"s":"Dsi","x":2200,"y":90,"m":1},{"s":"Dsi","x":2450,"y":85},{"s":"Dsi","x":2687,"y":81,"m":1},{"s":"Dsi","x":2900,"y":40},{"s":"Dsi","x":3086,"y":21,"m":1},{"s":"Dsi","x":3300,"y":12},{"s":"Dsi","x":3500,"y":9,"m":1},{"s":"Dsi","x":3844,"y":8.5,"m":1},{"s":"Dsi","x":4050,"y":8.2},{"s":"Dsi","x":4243,"y":8.1,"m":1},{"s":"Dsi","x":4450,"y":3.4},{"s":"Dsi","x":4700,"y":3,"m":1},{"s":"Dsi","x":5000,"y":3,"m":1},{"s":"Dsi","x":5150,"y":2.8},{"s":"Dsi","x":5221,"y":0.3},{"s":"Dsi","x":5295,"y":0.05,"m":1},{"s":"Dsi","x":5450,"y":3e-3},{"s":"Dsi","x":5600,"y":1e-4},{"s":"Dsi","x":5800,"y":1.8e-6,"m":1},
{"s":"Es","x":36,"y":8.7e5,"m":1},{"s":"Es","x":95,"y":3.2e5},{"s":"Es","x":152,"y":1.38e5,"m":1},{"s":"Es","x":215,"y":7e4},{"s":"Es","x":278,"y":3.2e4,"m":1},{"s":"Es","x":370,"y":1.4e4},{"s":"Es","x":468,"y":6600,"m":1},{"s":"Es","x":580,"y":2000},{"s":"Es","x":689,"y":830,"m":1},{"s":"Es","x":740,"y":900},{"s":"Es","x":770,"y":1200},{"s":"Es","x":800,"y":900},{"s":"Es","x":836,"y":363,"m":1},{"s":"Es","x":880,"y":150},{"s":"Es","x":950,"y":60},{"s":"Es","x":1088,"y":55,"m":1},
{"s":"Es","x":1250,"y":55},{"s":"Es","x":1414,"y":55,"m":1},{"s":"Es","x":1600,"y":56},{"s":"Es","x":1761,"y":48,"m":1},{"s":"Es","x":2000,"y":45},{"s":"Es","x":2214,"y":36,"m":1},{"s":"Es","x":2400,"y":33},{"s":"Es","x":2571,"y":32,"m":1},{"s":"Es","x":2700,"y":40},{"s":"Es","x":2792,"y":45,"m":1},{"s":"Es","x":2900,"y":45},{"s":"Es","x":3034,"y":45,"m":1},{"s":"Es","x":3150,"y":45},{"s":"Es","x":3265,"y":45,"m":1},{"s":"Es","x":3400,"y":42},{"s":"Es","x":3518,"y":44,"m":1},{"s":"Es","x":3650,"y":48},{"s":"Es","x":3770,"y":58,"m":1},{"s":"Es","x":3900,"y":75},{"s":"Es","x":4033,"y":93,"m":1},{"s":"Es","x":4150,"y":110},{"s":"Es","x":4275,"y":129,"m":1},{"s":"Es","x":4400,"y":150},{"s":"Es","x":4485,"y":170,"m":1},{"s":"Es","x":4530,"y":150},{"s":"Es","x":4560,"y":60},{"s":"Es","x":4612,"y":19,"m":1},{"s":"Es","x":4680,"y":5},{"s":"Es","x":4750,"y":2.5},{"s":"Es","x":4822,"y":1.5,"m":1},{"s":"Es","x":4950,"y":1.8},{"s":"Es","x":5064,"y":2.5,"m":1},{"s":"Es","x":5150,"y":3},{"s":"Es","x":5221,"y":2.8,"m":1},{"s":"Es","x":5330,"y":2},{"s":"Es","x":5432,"y":1.6,"m":1},{"s":"Es","x":5530,"y":0.9},{"s":"Es","x":5621,"y":0.55,"m":1},{"s":"Es","x":5700,"y":0.35},{"s":"Es","x":5780,"y":0.3},{"s":"Es","x":5895,"y":0.37,"m":1},{"s":"Es","x":6000,"y":0.45},{"s":"Es","x":6105,"y":0.63,"m":1},{"s":"Es","x":6200,"y":0.55},{"s":"Es","x":6250,"y":0.3},{"s":"Es","x":6305,"y":0.06,"m":1},{"s":"Es","x":6500,"y":0.006},{"s":"Es","x":6736,"y":5e-4,"m":1},{"s":"Es","x":6850,"y":5e-5},{"s":"Es","x":6999,"y":7.8e-6},
{"s":"Esi","x":36,"y":8.7e5,"m":1},{"s":"Esi","x":95,"y":3.2e5},{"s":"Esi","x":152,"y":1.38e5,"m":1},{"s":"Esi","x":215,"y":7e4},{"s":"Esi","x":278,"y":3.2e4,"m":1},{"s":"Esi","x":370,"y":1.4e4},{"s":"Esi","x":468,"y":6600,"m":1},{"s":"Esi","x":580,"y":2000},{"s":"Esi","x":689,"y":830,"m":1},{"s":"Esi","x":740,"y":900},{"s":"Esi","x":770,"y":1200},{"s":"Esi","x":800,"y":900},{"s":"Esi","x":836,"y":363,"m":1},{"s":"Esi","x":880,"y":150},{"s":"Esi","x":950,"y":60},{"s":"Esi","x":1088,"y":55,"m":1},
{"s":"Esi","x":1250,"y":60},{"s":"Esi","x":1404,"y":81,"m":1},{"s":"Esi","x":1600,"y":80},{"s":"Esi","x":1793,"y":81,"m":1},{"s":"Esi","x":2050,"y":95},{"s":"Esi","x":2318,"y":100,"m":1},{"s":"Esi","x":2550,"y":80},{"s":"Esi","x":2771,"y":55,"m":1},{"s":"Esi","x":2950,"y":48},{"s":"Esi","x":3086,"y":48,"m":1},{"s":"Esi","x":3300,"y":30},{"s":"Esi","x":3450,"y":14},{"s":"Esi","x":3581,"y":14.5,"m":1},{"s":"Esi","x":3750,"y":16},{"s":"Esi","x":3928,"y":16.6,"m":1},{"s":"Esi","x":4100,"y":13},{"s":"Esi","x":4296,"y":10.5,"m":1},{"s":"Esi","x":4450,"y":8},{"s":"Esi","x":4600,"y":4},{"s":"Esi","x":4716,"y":3.4,"m":1},{"s":"Esi","x":4950,"y":2.8},{"s":"Esi","x":5190,"y":2.6,"m":1},{"s":"Esi","x":5400,"y":2.7},{"s":"Esi","x":5632,"y":2.75,"m":1},{"s":"Esi","x":5850,"y":2.5},{"s":"Esi","x":5900,"y":0.6},{"s":"Esi","x":5958,"y":0.1,"m":1},{"s":"Esi","x":6150,"y":0.02},{"s":"Esi","x":6378,"y":3.2e-3,"m":1},{"s":"Esi","x":6500,"y":6e-4},{"s":"Esi","x":6650,"y":6e-5},{"s":"Esi","x":6788,"y":8.3e-6}
]
},
"vconcat": [
{
 "width": 500, "height": 30,
 "data": {"values": [{}]},
 "encoding": {"y": {"datum": 0.5, "type": "quantitative", "scale": {"domain": [0, 1]}, "axis": {"orient": "right", "title": "x", "titleColor": "#ffffff", "titleFontSize": 1, "titlePadding": 167, "labels": false, "ticks": false, "domain": false, "grid": false}}},
 "layer": [
  {"mark": {"type": "text", "text": "k", "fontStyle": "italic", "fontSize": 16.5, "align": "left", "baseline": "middle", "dx": -243}},
  {"mark": {"type": "text", "text": "\u00a0= 3 | IC : Freestream | CFL⁰ = 0.01 | β = 1.5 | N", "fontSize": 16.5, "align": "left", "baseline": "middle", "dx": -228.5}},
  {"mark": {"type": "text", "text": "CV", "fontSize": 11.5, "align": "left", "baseline": "middle", "dx": 161, "dy": 5}},
  {"mark": {"type": "text", "text": "\u00a0= 100K", "fontSize": 16.5, "align": "left", "baseline": "middle", "dx": 180}}
 ]
},
{
 "hconcat": [
 {
  "width": 502, "height": 382,
  "data": {"name": "L"},
  "layer": [
   {"mark": {"type": "line", "strokeWidth": 1.3, "clip": true},
    "encoding": {
     "x": {"field": "x", "type": "quantitative", "scale": {"domain": [-4.7, 120.5], "nice": false, "zero": false}, "axis": {"orient": "bottom", "values": [0,20,40,60,80,100,120], "format": "d", "title": "PTC iteraion", "titlePadding": 8}},
     "y": {"field": "y", "type": "quantitative", "scale": {"type": "log", "domain": [2.2e-7, 3.4e6], "nice": false}, "axis": {"orient": "left", "values": [1e-5,1e-3,0.1,10,1000,1e5], "labelExpr": "datum.value > 5e4 ? '10⁵' : datum.value > 500 ? '10³' : datum.value > 5 ? '10¹' : datum.value > 0.05 ? '10⁻¹' : datum.value > 5e-4 ? '10⁻³' : '10⁻⁵'", "title": "‖ R(Uₕ) ‖ ₂", "titlePadding": 24}},
     "color": {"field": "s", "type": "nominal", "scale": {"domain": ["D","Di","E","Ei","F","Fi","B","Bi","Ds","Dsi","Es","Esi"], "range": ["#bf00bf","#bf00bf","#000000","#000000","#00bfbf","#00bfbf","#0000ff","#0000ff","#008000","#008000","#ff0000","#ff0000"]}, "legend": null}
    }},
   {"transform": [{"filter": "datum.m"}],
    "mark": {"type": "point", "filled": true, "opacity": 1, "clip": true},
    "encoding": {
     "x": {"field": "x", "type": "quantitative", "axis": {"orient": "top", "values": [0,20,40,60,80,100,120], "labels": false, "title": null}},
     "y": {"field": "y", "type": "quantitative", "axis": {"orient": "right", "values": [1e-5,1e-3,0.1,10,1000,1e5], "labels": false, "title": null}},
     "color": {"field": "s", "type": "nominal", "legend": null},
     "size": {"field": "s", "type": "ordinal", "scale": {"domain": ["D","Di","E","Ei","F","Fi","B","Bi","Ds","Dsi","Es","Esi"], "range": [95,130,95,130,95,130,95,130,95,130,95,130]}, "legend": null},
     "shape": {"field": "s", "type": "nominal", "scale": {"domain": ["D","Di","E","Ei","F","Fi","B","Bi","Ds","Dsi","Es","Esi"], "range": ["circle","triangle-right","circle","triangle-right","circle","triangle-right","circle","triangle-right","circle","triangle-right","circle","triangle-right"]}, "legend": null}
    }}
  ]
 },
 {
  "width": 502, "height": 382,
  "resolve": {"scale": {"shape": "independent", "fill": "independent", "stroke": "independent"}},
  "layer": [
   {"data": {"name": "R"},
    "mark": {"type": "line", "strokeWidth": 1.3, "clip": true},
    "encoding": {
     "x": {"field": "x", "type": "quantitative", "scale": {"domain": [-550, 12225], "nice": false, "zero": false}, "axis": {"orient": "bottom", "values": [0,2000,4000,6000,8000,10000,12000], "format": "d", "title": "Wall time (s)", "titlePadding": 8}},
     "y": {"field": "y", "type": "quantitative", "scale": {"type": "log", "domain": [2.2e-7, 3.4e6], "nice": false}, "axis": {"orient": "left", "values": [1e-5,1e-3,0.1,10,1000,1e5], "labels": false, "title": null}},
     "color": {"field": "s", "type": "nominal", "scale": {"domain": ["D","Di","E","Ei","F","Fi","B","Bi","Ds","Dsi","Es","Esi"], "range": ["#bf00bf","#bf00bf","#000000","#000000","#00bfbf","#00bfbf","#0000ff","#0000ff","#008000","#008000","#ff0000","#ff0000"]}, "legend": null}
    }},
   {"data": {"name": "R"},
    "transform": [{"filter": "datum.m"}],
    "mark": {"type": "point", "filled": true, "opacity": 1, "clip": true},
    "encoding": {
     "x": {"field": "x", "type": "quantitative", "axis": {"orient": "top", "values": [0,2000,4000,6000,8000,10000,12000], "labels": false, "title": null}},
     "y": {"field": "y", "type": "quantitative", "axis": {"orient": "right", "values": [1e-5,1e-3,0.1,10,1000,1e5], "labels": false, "title": null}},
     "color": {"field": "s", "type": "nominal", "legend": null},
     "size": {"field": "s", "type": "ordinal", "scale": {"domain": ["D","Di","E","Ei","F","Fi","B","Bi","Ds","Dsi","Es","Esi"], "range": [95,130,95,130,95,130,95,130,95,130,95,130]}, "legend": null},
     "shape": {"field": "s", "type": "nominal", "scale": {"domain": ["D","Di","E","Ei","F","Fi","B","Bi","Ds","Dsi","Es","Esi"], "range": ["circle","triangle-right","circle","triangle-right","circle","triangle-right","circle","triangle-right","circle","triangle-right","circle","triangle-right"]}, "legend": null}
    }},
   {"data": {"name": "S"},
    "mark": {"type": "point", "filled": true, "size": 0, "opacity": 1},
    "encoding": {
     "fill": {"field": "s", "type": "nominal", "scale": {"domain": ["D","Di","E","Ei","F","Fi","B","Bi","Ds","Dsi","Es","Esi"], "range": ["#bf00bf","#bf00bf","#000000","#000000","#00bfbf","#00bfbf","#0000ff","#0000ff","#008000","#008000","#ff0000","#ff0000"]},
      "legend": {"title": null, "orient": "none", "legendX": 446, "legendY": 7, "symbolOpacity": 1,
       "labelExpr": "['Case D','Case D\u00a0\u00a0\u00a0− include ν\u0303','Case E','Case E\u00a0\u00a0\u00a0− include ν\u0303','Case F','Case F\u00a0\u00a0\u00a0− include ν\u0303','Case B*','Case B* − include ν\u0303','Case D*','Case D* − include ν\u0303','Case E*','Case E* − include ν\u0303'][indexof(['D','Di','E','Ei','F','Fi','B','Bi','Ds','Dsi','Es','Esi'], datum.label)]"}},
     "stroke": {"field": "s", "type": "nominal", "scale": {"domain": ["D","Di","E","Ei","F","Fi","B","Bi","Ds","Dsi","Es","Esi"], "range": ["#bf00bf","#bf00bf","#000000","#000000","#00bfbf","#00bfbf","#0000ff","#0000ff","#008000","#008000","#ff0000","#ff0000"]},
      "legend": {"title": null, "orient": "none", "legendX": 446, "legendY": 7, "symbolOpacity": 1,
       "labelExpr": "['Case D','Case D\u00a0\u00a0\u00a0− include ν\u0303','Case E','Case E\u00a0\u00a0\u00a0− include ν\u0303','Case F','Case F\u00a0\u00a0\u00a0− include ν\u0303','Case B*','Case B* − include ν\u0303','Case D*','Case D* − include ν\u0303','Case E*','Case E* − include ν\u0303'][indexof(['D','Di','E','Ei','F','Fi','B','Bi','Ds','Dsi','Es','Esi'], datum.label)]"}},
     "shape": {"field": "s", "type": "nominal", "scale": {"domain": ["D","Di","E","Ei","F","Fi","B","Bi","Ds","Dsi","Es","Esi"], "range": [
       "M-2,0L2,0M-2.9,0A0.9,0.9,0,1,0,-1.1,0A0.9,0.9,0,1,0,-2.9,0M1.1,0A0.9,0.9,0,1,0,2.9,0A0.9,0.9,0,1,0,1.1,0",
       "M-3.1,0L3.1,0M-3.1,-1L-1.3,0L-3.1,1ZM1.3,-1L3.1,0L1.3,1Z",
       "M-2,0L2,0M-2.9,0A0.9,0.9,0,1,0,-1.1,0A0.9,0.9,0,1,0,-2.9,0M1.1,0A0.9,0.9,0,1,0,2.9,0A0.9,0.9,0,1,0,1.1,0",
       "M-3.1,0L3.1,0M-3.1,-1L-1.3,0L-3.1,1ZM1.3,-1L3.1,0L1.3,1Z",
       "M-2,0L2,0M-2.9,0A0.9,0.9,0,1,0,-1.1,0A0.9,0.9,0,1,0,-2.9,0M1.1,0A0.9,0.9,0,1,0,2.9,0A0.9,0.9,0,1,0,1.1,0",
       "M-3.1,0L3.1,0M-3.1,-1L-1.3,0L-3.1,1ZM1.3,-1L3.1,0L1.3,1Z",
       "M-2,0L2,0M-2.9,0A0.9,0.9,0,1,0,-1.1,0A0.9,0.9,0,1,0,-2.9,0M1.1,0A0.9,0.9,0,1,0,2.9,0A0.9,0.9,0,1,0,1.1,0",
       "M-3.1,0L3.1,0M-3.1,-1L-1.3,0L-3.1,1ZM1.3,-1L3.1,0L1.3,1Z",
       "M-2,0L2,0M-2.9,0A0.9,0.9,0,1,0,-1.1,0A0.9,0.9,0,1,0,-2.9,0M1.1,0A0.9,0.9,0,1,0,2.9,0A0.9,0.9,0,1,0,1.1,0",
       "M-3.1,0L3.1,0M-3.1,-1L-1.3,0L-3.1,1ZM1.3,-1L3.1,0L1.3,1Z",
       "M-2,0L2,0M-2.9,0A0.9,0.9,0,1,0,-1.1,0A0.9,0.9,0,1,0,-2.9,0M1.1,0A0.9,0.9,0,1,0,2.9,0A0.9,0.9,0,1,0,1.1,0",
       "M-3.1,0L3.1,0M-3.1,-1L-1.3,0L-3.1,1ZM1.3,-1L3.1,0L1.3,1Z"]},
      "legend": {"title": null, "orient": "none", "legendX": 446, "legendY": 7, "symbolOpacity": 1,
       "labelExpr": "['Case D','Case D\u00a0\u00a0\u00a0− include ν\u0303','Case E','Case E\u00a0\u00a0\u00a0− include ν\u0303','Case F','Case F\u00a0\u00a0\u00a0− include ν\u0303','Case B*','Case B* − include ν\u0303','Case D*','Case D* − include ν\u0303','Case E*','Case E* − include ν\u0303'][indexof(['D','Di','E','Ei','F','Fi','B','Bi','Ds','Dsi','Es','Esi'], datum.label)]"}}
    }}
  ]
 }
 ],
 "spacing": 12
}
]
}
